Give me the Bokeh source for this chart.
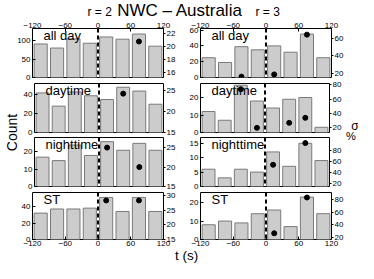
from bokeh.plotting import figure
from bokeh.models import Range1d, LinearAxis, FixedTicker, Span, Label
from bokeh.layouts import column, row
from bokeh.embed import file_html
from bokeh.resources import INLINE

# ---------------- data ----------------
bin_centers = [-105, -75, -45, -15, 15, 45, 75, 105]
x_ticks = [-120, -60, 0, 60, 120]
x_tick_labels = ["\u2212120", "\u221260", "0", "60", "120"]
event_time = 0
panel_names = ["all day", "daytime", "nighttime", "ST"]

# r = 2 (left column): counts per 30 s bin
r2_allday_counts = [91, 80, 105, 93, 110, 104, 118, 85]
r2_daytime_counts = [42, 28, 43, 39, 35, 48, 44, 30]
r2_nighttime_counts = [17, 15, 24, 18, 26, 21, 25, 21]
r2_st_counts = [32, 37, 37, 38, 51, 34, 51, 34]
# r = 2 : sigma % points
r2_allday_sig_t = [75]
r2_allday_sig = [20.8]
r2_daytime_sig_t = [45]
r2_daytime_sig = [24.2]
r2_nighttime_sig_t = [15, 75]
r2_nighttime_sig = [25.0, 20.0]
r2_st_sig_t = [15, 75]
r2_st_sig = [28.3, 28.3]

# r = 3 (right column)
r3_allday_counts = [25, 19, 39, 35, 40, 32, 55, 25]
r3_daytime_counts = [12, 7, 27, 18, 14, 19, 20, 3]
r3_nighttime_counts = [6, 3, 6, 5, 12, 7, 15, 9]
r3_st_counts = [8, 10, 9, 14, 16, 7, 23, 14]
r3_allday_sig_t = [-45, 15, 75]
r3_allday_sig = [16, 18.5, 64]
r3_daytime_sig_t = [-45, -15, 45, 75]
r3_daytime_sig = [74, 20, 27, 34]
r3_nighttime_sig_t = [15, 75]
r3_nighttime_sig = [54, 93]
r3_st_sig_t = [15, 75]
r3_st_sig = [27, 82.7]

# axis limits / ticks per panel
count_lims = [[(0, 133), (0, 52), (0, 28.4), (0, 57)],
              [(0, 62), (0, 28), (0, 17), (0, 25.5)]]
count_ticks = [[[0, 50, 100], [0, 20, 40], [0, 10, 20], [0, 20, 40]],
               [[0, 20, 40, 60], [0, 10, 20], [0, 5, 10, 15], [0, 10, 20]]]
sig_lims = [[(15.15, 22.84), (15, 26.6), (15, 27.6), (15, 31)],
            [(15, 71), (13.5, 82), (15, 103), (17.3, 90.5)]]
sig_ticks = [[[16, 18, 20, 22], [15, 20, 25], [15, 20, 25], [15, 20, 25, 30]],
             [[20, 40, 60], [20, 40, 60, 80], [20, 40, 60, 80], [20, 40, 60, 80]]]

counts = [[r2_allday_counts, r2_daytime_counts, r2_nighttime_counts, r2_st_counts],
          [r3_allday_counts, r3_daytime_counts, r3_nighttime_counts, r3_st_counts]]
sig_t = [[r2_allday_sig_t, r2_daytime_sig_t, r2_nighttime_sig_t, r2_st_sig_t],
         [r3_allday_sig_t, r3_daytime_sig_t, r3_nighttime_sig_t, r3_st_sig_t]]
sig_v = [[r2_allday_sig, r2_daytime_sig, r2_nighttime_sig, r2_st_sig],
         [r3_allday_sig, r3_daytime_sig, r3_nighttime_sig, r3_st_sig]]

# ---------------- geometry ----------------
FONT = "Liberation Sans"
TOTAL_W = 358
FRAME_W = 131
SIDE_W_LEFT = 20
SIDE_W_RIGHT = 14
# per row: (left border, right border) for left column and right column
BORD = {0: [(32, 18), (19, 27)], 1: [(32 - SIDE_W_LEFT, 18), (19, 13)],
        2: [(32 - SIDE_W_LEFT, 18), (19, 13)], 3: [(32, 18), (19, 27)]}
ROW_T = [12, 3, 2, 3]
ROW_B = [3, 3, 3, 11]
FRAME_H = [49, 49, 49, 47]
TITLE_H = 16
XLAB_H = 13
MID = 0.3465  # distance baseline -> centre of the font box, in em


def style_axis(ax, tick_in=3, tick_out=0, standoff=2):
    ax.axis_line_color = None
    ax.major_tick_line_color = "black"
    ax.major_tick_in = tick_in
    ax.major_tick_out = tick_out
    ax.minor_tick_line_color = None
    ax.major_label_text_font = FONT
    ax.major_label_text_font_size = "8px"
    ax.major_label_text_color = "black"
    ax.major_label_standoff = standoff


def panel(c, r):
    L, R = BORD[r][c]
    H = ROW_T[r] + FRAME_H[r] + ROW_B[r]
    p = figure(width=L + FRAME_W + R, height=H, title=None,
               x_range=Range1d(-120, 120), y_range=Range1d(*count_lims[c][r]),
               output_backend="svg", toolbar_location=None,
               x_axis_location=None, y_axis_location=None,
               min_border_left=L, min_border_right=R,
               min_border_top=ROW_T[r], min_border_bottom=ROW_B[r],
               outline_line_color="black", outline_line_width=1,
               background_fill_color="white", border_fill_color="white")
    p.xgrid.visible = False
    p.ygrid.visible = False
    p.extra_y_ranges = {"sig": Range1d(*sig_lims[c][r])}

    la = LinearAxis(ticker=FixedTicker(ticks=count_ticks[c][r]))
    style_axis(la, tick_in=3, tick_out=0, standoff=2)
    p.add_layout(la, "left")
    ra = LinearAxis(y_range_name="sig", ticker=FixedTicker(ticks=sig_ticks[c][r]))
    style_axis(ra, tick_in=0, tick_out=2, standoff=1)
    p.add_layout(ra, "right")
    if r in (0, 3):
        xa = LinearAxis(ticker=FixedTicker(ticks=x_ticks),
                        major_label_overrides={t: s for t, s in zip(x_ticks, x_tick_labels)})
        style_axis(xa, tick_in=3, tick_out=0, standoff=1)
        p.add_layout(xa, "above" if r == 0 else "below")

    p.vbar(x=bin_centers, top=counts[c][r], bottom=0, width=24,
           fill_color="#cccccc", line_color="#7a7a7a", line_width=1)
    p.add_layout(Span(location=event_time, dimension="height", line_color="black",
                      line_width=2, line_dash="4 3"))
    p.scatter(x=sig_t[c][r], y=sig_v[c][r], y_range_name="sig", size=5,
              fill_color="black", line_color="black")
    # baseline 12 px below the frame top, drawn centred on its font box
    p.add_layout(Label(x=11, y=FRAME_H[r] - (12 - MID * 13), x_units="screen", y_units="screen",
                       text=panel_names[r], text_font=FONT, text_font_size="13px",
                       text_color="black", text_align="left",
                       text_baseline="middle"))
    return p


def text_fig(w, h, **borders):
    b = dict(min_border_left=0, min_border_right=0, min_border_top=0, min_border_bottom=0)
    b.update(borders)
    f = figure(width=w, height=h, title=None, x_range=Range1d(0, 1), y_range=Range1d(0, 1),
               output_backend="svg", toolbar_location=None,
               x_axis_location=None, y_axis_location=None,
               outline_line_color=None, background_fill_color="white",
               border_fill_color="white", **b)
    f.xgrid.visible = False
    f.ygrid.visible = False
    return f


def add_text(f, text, x, y_centre_from_top, size_px, align="center"):
    f.add_layout(Label(x=x, y=f.height - y_centre_from_top, x_units="screen", y_units="screen",
                       text=text, text_font=FONT, text_font_size=f"{size_px}px",
                       text_color="black", text_align=align, text_baseline="middle"))


figs = [[panel(c, r) for c in range(2)] for r in range(4)]

title_fig = text_fig(TOTAL_W, TITLE_H)
add_text(title_fig, "NWC \u2013 Australia", 179.5, 15.5 - MID * 17, 17)
add_text(title_fig, "r = 2", 87, 15.5 - MID * 12, 12, align="left")
add_text(title_fig, "r = 3", 255, 15.5 - MID * 12, 12, align="left")

mid_h = figs[1][0].height + figs[2][0].height
# "Count": the label of an otherwise empty left axis, centred on a thin frame
count_fig = text_fig(SIDE_W_LEFT, mid_h, min_border_left=SIDE_W_LEFT - 1, min_border_bottom=5)
cax = LinearAxis(ticker=FixedTicker(ticks=[]), axis_label="Count", axis_label_standoff=0,
                 axis_label_text_font=FONT, axis_label_text_font_size="14px",
                 axis_label_text_font_style="normal", axis_label_text_color="black",
                 axis_line_color=None, major_tick_in=0, major_tick_out=0,
                 major_label_standoff=0, minor_tick_in=0, minor_tick_out=0)
count_fig.add_layout(cax, "left")

# right-hand label "% sigma", set diagonally
sigma_fig = text_fig(SIDE_W_RIGHT, mid_h)
add_text(sigma_fig, "%", 6.5, 60, 11)
add_text(sigma_fig, "\u03c3", 10.5, 50.5, 12)

xlab_fig = text_fig(TOTAL_W, XLAB_H)
add_text(xlab_fig, "t (s)", 186, 10 - MID * 13.5, 13.5)

layout = column(
    title_fig,
    row(figs[0][0], figs[0][1]),
    row(count_fig,
        column(row(figs[1][0], figs[1][1]), row(figs[2][0], figs[2][1])),
        sigma_fig),
    row(figs[3][0], figs[3][1]),
    xlab_fig,
)
open("out.html", "w").write(file_html(layout, INLINE))
